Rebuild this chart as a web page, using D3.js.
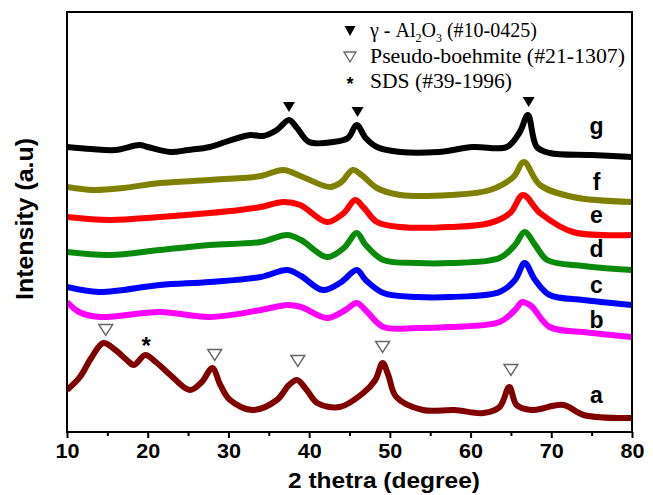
<!DOCTYPE html>
<html>
<head>
<meta charset="utf-8">
<script src="https://cdn.jsdelivr.net/npm/d3@7"></script>
<style>
  html, body { margin: 0; padding: 0; background: #fff; }
  svg { display: block; }
</style>
</head>
<body>
<svg id="chart" width="653" height="495"></svg>
<script>
// ---- data (2θ in degrees, intensity in arbitrary units) ----
const seriesNames = ["a", "b", "c", "d", "e", "f", "g"];
const seriesColors = ["#800000", "#ff00ff", "#0000ff", "#0a8a0a", "#ff0000", "#808000", "#000000"];

const seriesA = [[10,42],[11.6,55],[13,74],[14.5,89],[16,82],[17.4,72],[18.3,67],[19.7,77],[21,70],[22.8,57],[25.2,42],[26.7,50],[28,64],[29,47],[30.2,32],[33,22],[36,32],[37.5,47],[38.5,52],[39.7,42],[41,29],[43.8,25],[46.7,39],[48.2,52],[49.1,69],[49.8,57],[50.8,35],[54.1,22],[58,22],[61.6,19],[63.6,25],[64.8,45],[65.7,27],[67.5,22],[71.5,27],[74,17],[80,14]];
const seriesB = [[10,130],[11.5,120],[14,115],[21.5,120],[27.7,115],[34,122],[37.3,127],[39,125],[42.2,114],[44.5,122],[45.9,129],[47.2,120],[49.2,105],[53.4,104],[57.5,105],[63.6,110],[65.5,122],[66.4,130],[67.5,126],[69.8,105],[74,100],[80,95]];
const seriesC = [[10,145],[14,140],[21.5,147],[27.7,150],[34,155],[37.3,162],[39,156],[41.7,142],[44,150],[45.9,162],[47,152],[49.2,139],[53.4,135],[57.5,135],[63.6,140],[65.5,152],[66.7,169],[68,152],[69.8,137],[74,132],[80,127]];
const seriesD = [[10,180],[15.3,177],[21.5,182],[27.7,187],[34,190],[37.3,197],[39,192],[42.2,175],[44.3,184],[45.9,199],[47,187],[49.2,172],[53.4,169],[57.5,169],[63.6,174],[65.5,187],[66.7,200],[68,187],[69.5,172],[74,166],[80,162]];
const seriesE = [[10,215],[15.3,212],[21.5,215],[27.7,219],[31.4,222],[34,225],[36.8,230],[38.9,227],[42.2,210],[44.3,219],[45.7,232],[46.8,224],[48.4,210],[51.3,205],[57.5,205],[62.4,209],[64.9,219],[66.5,237],[68.6,219],[72.7,200],[80,197]];
const seriesF = [[10,245],[13.2,242],[17,244],[21.5,249],[27.7,252],[34,256],[36.8,262],[39.2,255],[42.6,245],[44,250],[45.4,262],[46.5,257],[48.4,244],[51.3,237],[57.5,237],[62.4,242],[65.3,255],[66.6,270],[68.6,247],[72.7,235],[80,230]];
const seriesG = [[10,285],[13,283],[16,282],[19,287],[20,285],[22.8,280],[25,282],[27.7,285],[30,291],[32.7,297],[34.3,296],[36,302],[37.5,312],[38.5,304],[40,290],[43,290],[44.8,294],[45.9,307],[47,294],[48.4,285],[51.3,280],[56,280],[60.3,285],[64.5,285],[66.1,300],[67.1,317],[68.2,285],[69.8,279],[75,277],[80,275]];
const seriesValues = [seriesA, seriesB, seriesC, seriesD, seriesE, seriesF, seriesG];

const xTicks = [10, 20, 30, 40, 50, 60, 70, 80];
const xMinorTicks = [15, 25, 35, 45, 55, 65, 75];

// reference phase markers: [2θ, intensity]
const gammaPeaks = [[37.5, 325], [46, 320], [67.2, 330]];
const boehmitePeaks = [[14.8, 102], [28.3, 77], [38.6, 71], [49.1, 85], [65, 62]];
const sdsPeaks = [[19.8, 90]];

const legendLabels = ["γ - Al", "Pseudo-boehmite (#21-1307)", "SDS (#39-1996)"];

// ---- layout ----
const svg = d3.select("#chart");
const L = 67, R = 632, T = 12, B = 432;
const x = d3.scaleLinear().domain([10, 80]).range([L, R]);
const y = d3.scaleLinear().domain([0, 420]).range([B, T]);

const sans = "'Liberation Sans', Arial, Helvetica, sans-serif";
const serif = "'Liberation Serif', 'Times New Roman', serif";

// curves
const line = d3.line().x(d => x(d[0])).y(d => y(d[1])).curve(d3.curveCatmullRom.alpha(0.5));
svg.append("clipPath").attr("id", "clip").append("rect")
  .attr("x", L).attr("y", T).attr("width", R - L).attr("height", B - T);
const g = svg.append("g").attr("clip-path", "url(#clip)");
seriesValues.forEach((s, i) => {
  g.append("path").datum(s).attr("d", line)
    .attr("fill", "none").attr("stroke", seriesColors[i])
    .attr("stroke-width", 6).attr("stroke-linejoin", "round");
});

// series letters
const labelOffsets = [-15, -9, -12, -13, -12, -12, -23];
seriesValues.forEach((s, i) => {
  const last = s[s.length - 1];
  svg.append("text")
    .attr("x", x(75.6)).attr("y", y(last[1]) + labelOffsets[i])
    .attr("text-anchor", "middle")
    .attr("font-family", sans).attr("font-weight", "bold").attr("font-size", 23)
    .attr("fill", "#000").text(seriesNames[i]);
});

// frame
svg.append("rect").attr("x", L).attr("y", T).attr("width", R - L).attr("height", B - T)
  .attr("fill", "none").attr("stroke", "#000").attr("stroke-width", 2);

// x axis
const xAxis = d3.axisBottom(x).tickValues(xTicks).tickSize(6).tickSizeOuter(0).tickPadding(6)
  .tickFormat(d3.format("d"));
const ax = svg.append("g").attr("transform", `translate(0,${B})`).call(xAxis);
ax.select(".domain").remove();
ax.selectAll(".tick line").attr("stroke", "#000").attr("stroke-width", 2);
ax.selectAll(".tick text").attr("font-family", sans).attr("font-weight", "bold")
  .attr("font-size", 20).attr("fill", "#000").attr("dy", "0.72em")
  .attr("textLength", 24).attr("lengthAdjust", "spacingAndGlyphs");
const axm = svg.append("g").attr("transform", `translate(0,${B})`)
  .call(d3.axisBottom(x).tickValues(xMinorTicks).tickSize(4).tickFormat(""));
axm.select(".domain").remove();
axm.selectAll(".tick line").attr("stroke", "#000").attr("stroke-width", 2);

// axis titles
svg.append("text").attr("x", 384).attr("y", 488).attr("text-anchor", "middle")
  .attr("font-family", sans).attr("font-weight", "bold").attr("font-size", 22)
  .attr("textLength", 192).attr("lengthAdjust", "spacingAndGlyphs")
  .text("2 thetra (degree)");
svg.append("text").attr("transform", "translate(33,219) rotate(-90)")
  .attr("text-anchor", "middle")
  .attr("font-family", sans).attr("font-weight", "bold").attr("font-size", 24)
  .attr("textLength", 162).attr("lengthAdjust", "spacingAndGlyphs")
  .text("Intensity (a.u)");

// markers
const down = (cx, cy, w, h) => `M${cx - w / 2},${cy - h / 2}L${cx + w / 2},${cy - h / 2}L${cx},${cy + h / 2}Z`;
gammaPeaks.forEach(p => {
  svg.append("path").attr("d", down(x(p[0]), y(p[1]), 12, 10)).attr("fill", "#000");
});
boehmitePeaks.forEach(p => {
  svg.append("path").attr("d", down(x(p[0]), y(p[1]), 14, 11))
    .attr("fill", "#fff").attr("stroke", "#666").attr("stroke-width", 1.4);
});
sdsPeaks.forEach(p => {
  svg.append("text").attr("x", x(p[0])).attr("y", y(p[1]) + 12).attr("text-anchor", "middle")
    .attr("font-family", sans).attr("font-weight", "bold").attr("font-size", 24).text("*");
});

// legend
const lg = svg.append("g");
lg.append("path").attr("d", down(350, 31, 11, 10)).attr("fill", "#000");
lg.append("path").attr("d", down(350, 57, 12, 10)).attr("fill", "#fff").attr("stroke", "#666").attr("stroke-width", 1.3);
lg.append("text").attr("x", 350).attr("y", 90).attr("text-anchor", "middle")
  .attr("font-family", sans).attr("font-weight", "bold").attr("font-size", 18).text("*");
const t1 = lg.append("text").attr("x", 370).attr("y", 37)
  .attr("font-family", serif).attr("font-size", 20).attr("fill", "#000");
t1.append("tspan").text("γ - Al");
t1.append("tspan").attr("font-size", 12).attr("dy", 5).text("2");
t1.append("tspan").attr("dy", -5).text("O");
t1.append("tspan").attr("font-size", 12).attr("dy", 5).text("3");
t1.append("tspan").attr("dy", -5).text(" (#10-0425)");
lg.append("text").attr("x", 370).attr("y", 63)
  .attr("font-family", serif).attr("font-size", 20)
  .attr("textLength", 255).attr("lengthAdjust", "spacingAndGlyphs")
  .text(legendLabels[1]);
lg.append("text").attr("x", 370).attr("y", 88)
  .attr("font-family", serif).attr("font-size", 20)
  .attr("textLength", 142).attr("lengthAdjust", "spacingAndGlyphs")
  .text(legendLabels[2]);
</script>
</body>
</html>
